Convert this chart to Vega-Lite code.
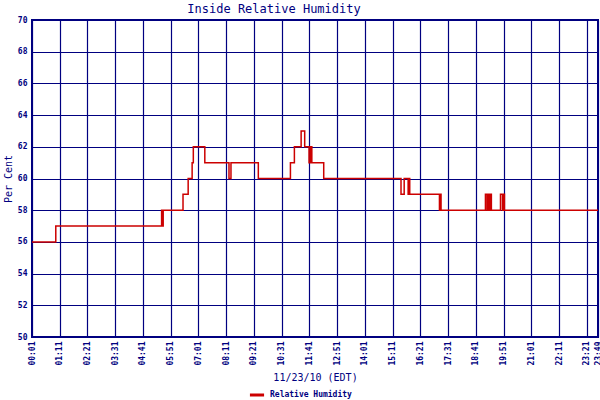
{
  "$schema": "https://vega.github.io/schema/vega-lite/v6.json",
  "width": 566,
  "height": 317,
  "autosize": {"type": "none"},
  "padding": {"left": 32, "top": 20, "right": 2, "bottom": 63},
  "background": "white",
  "config": {"view": {"stroke": "#000080", "strokeWidth": 2}},
  "title": {"text": "Inside Relative Humidity", "font": "DejaVu Sans Mono", "fontSize": 12, "fontWeight": "normal", "color": "#000080", "anchor": "middle", "dx": -41, "offset": 0},
  "data": {"values": [
    {"time": "2010-11-23T00:01", "rh": 56},
    {"time": "2010-11-23T01:01", "rh": 57},
    {"time": "2010-11-23T05:28", "rh": 58},
    {"time": "2010-11-23T05:30", "rh": 57},
    {"time": "2010-11-23T05:32", "rh": 58},
    {"time": "2010-11-23T06:22", "rh": 59},
    {"time": "2010-11-23T06:35", "rh": 60},
    {"time": "2010-11-23T06:45", "rh": 61},
    {"time": "2010-11-23T06:48", "rh": 62},
    {"time": "2010-11-23T07:17", "rh": 61},
    {"time": "2010-11-23T08:18", "rh": 60},
    {"time": "2010-11-23T08:23", "rh": 61},
    {"time": "2010-11-23T09:32", "rh": 60},
    {"time": "2010-11-23T10:53", "rh": 61},
    {"time": "2010-11-23T11:03", "rh": 62},
    {"time": "2010-11-23T11:20", "rh": 63},
    {"time": "2010-11-23T11:29", "rh": 62},
    {"time": "2010-11-23T11:40", "rh": 61},
    {"time": "2010-11-23T11:44", "rh": 62},
    {"time": "2010-11-23T11:47", "rh": 61},
    {"time": "2010-11-23T12:17", "rh": 60},
    {"time": "2010-11-23T15:32", "rh": 59},
    {"time": "2010-11-23T15:40", "rh": 60},
    {"time": "2010-11-23T15:50", "rh": 59},
    {"time": "2010-11-23T15:52", "rh": 60},
    {"time": "2010-11-23T15:54", "rh": 59},
    {"time": "2010-11-23T17:09", "rh": 58},
    {"time": "2010-11-23T17:11", "rh": 59},
    {"time": "2010-11-23T17:13", "rh": 58},
    {"time": "2010-11-23T19:05", "rh": 59},
    {"time": "2010-11-23T19:09", "rh": 58},
    {"time": "2010-11-23T19:11", "rh": 59},
    {"time": "2010-11-23T19:14", "rh": 58},
    {"time": "2010-11-23T19:17", "rh": 59},
    {"time": "2010-11-23T19:20", "rh": 58},
    {"time": "2010-11-23T19:43", "rh": 59},
    {"time": "2010-11-23T19:48", "rh": 58},
    {"time": "2010-11-23T19:50", "rh": 59},
    {"time": "2010-11-23T19:53", "rh": 58},
    {"time": "2010-11-23T23:49", "rh": 58}
  ]},
  "mark": {"type": "line", "interpolate": "step-after", "strokeWidth": 1.5},
  "encoding": {
    "x": {
      "field": "time", "type": "temporal",
      "scale": {"domain": [
        {"year": 2010, "month": 11, "date": 23, "hours": 0, "minutes": 1},
        {"year": 2010, "month": 11, "date": 23, "hours": 23, "minutes": 49}
      ]},
      "axis": {
        "values": [
          {"year": 2010, "month": 11, "date": 23, "hours": 0, "minutes": 1},
          {"year": 2010, "month": 11, "date": 23, "hours": 1, "minutes": 11},
          {"year": 2010, "month": 11, "date": 23, "hours": 2, "minutes": 21},
          {"year": 2010, "month": 11, "date": 23, "hours": 3, "minutes": 31},
          {"year": 2010, "month": 11, "date": 23, "hours": 4, "minutes": 41},
          {"year": 2010, "month": 11, "date": 23, "hours": 5, "minutes": 51},
          {"year": 2010, "month": 11, "date": 23, "hours": 7, "minutes": 1},
          {"year": 2010, "month": 11, "date": 23, "hours": 8, "minutes": 11},
          {"year": 2010, "month": 11, "date": 23, "hours": 9, "minutes": 21},
          {"year": 2010, "month": 11, "date": 23, "hours": 10, "minutes": 31},
          {"year": 2010, "month": 11, "date": 23, "hours": 11, "minutes": 41},
          {"year": 2010, "month": 11, "date": 23, "hours": 12, "minutes": 51},
          {"year": 2010, "month": 11, "date": 23, "hours": 14, "minutes": 1},
          {"year": 2010, "month": 11, "date": 23, "hours": 15, "minutes": 11},
          {"year": 2010, "month": 11, "date": 23, "hours": 16, "minutes": 21},
          {"year": 2010, "month": 11, "date": 23, "hours": 17, "minutes": 31},
          {"year": 2010, "month": 11, "date": 23, "hours": 18, "minutes": 41},
          {"year": 2010, "month": 11, "date": 23, "hours": 19, "minutes": 51},
          {"year": 2010, "month": 11, "date": 23, "hours": 21, "minutes": 1},
          {"year": 2010, "month": 11, "date": 23, "hours": 22, "minutes": 11},
          {"year": 2010, "month": 11, "date": 23, "hours": 23, "minutes": 21},
          {"year": 2010, "month": 11, "date": 23, "hours": 23, "minutes": 49}
        ],
        "format": "%H:%M",
        "labelAngle": 270,
        "labelFont": "DejaVu Sans Mono",
        "labelFontSize": 8,
        "labelFontWeight": "bold",
        "labelColor": "#000080",
        "labelPadding": 4,
        "labelOverlap": false,
        "labelFlush": false,
        "ticks": false,
        "domain": false,
        "grid": true,
        "gridColor": "#000080",
        "gridOpacity": 1,
        "gridWidth": 1.2,
        "title": "11/23/10 (EDT)",
        "titleFont": "DejaVu Sans Mono",
        "titleFontSize": 10,
        "titleFontWeight": "normal",
        "titleColor": "#000080",
        "titlePadding": 7
      }
    },
    "y": {
      "field": "rh", "type": "quantitative",
      "scale": {"domain": [50, 70], "nice": false, "zero": false},
      "axis": {
        "values": [50, 52, 54, 56, 58, 60, 62, 64, 66, 68, 70],
        "labelFont": "DejaVu Sans Mono",
        "labelFontSize": 8,
        "labelFontWeight": "bold",
        "labelColor": "#000080",
        "labelPadding": 5,
        "ticks": false,
        "domain": false,
        "grid": true,
        "gridColor": "#000080",
        "gridOpacity": 1,
        "gridWidth": 1.2,
        "title": "Per Cent",
        "titleFont": "DejaVu Sans Mono",
        "titleFontSize": 10,
        "titleFontWeight": "normal",
        "titleColor": "#000080",
        "titlePadding": 4
      }
    },
    "color": {
      "datum": "Relative Humidity",
      "type": "nominal",
      "scale": {"range": ["#cc0000"]},
      "legend": {
        "orient": "none",
        "legendX": 216,
        "legendY": 366,
        "title": null,
        "symbolType": "stroke",
        "symbolSize": 200,
        "symbolStrokeWidth": 3,
        "labelFont": "DejaVu Sans Mono",
        "labelFontSize": 8,
        "labelFontWeight": "bold",
        "labelColor": "#000080"
      }
    }
  }
}
